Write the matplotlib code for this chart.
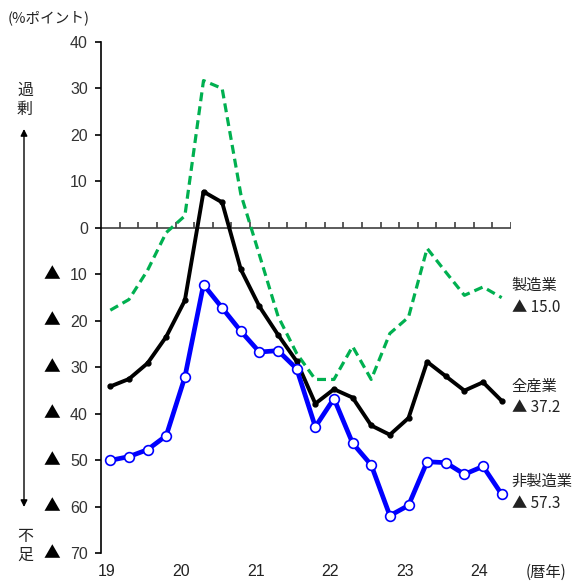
import numpy as np
import matplotlib
matplotlib.use("Agg")
from matplotlib import pyplot as plt
from matplotlib import transforms

# quarterly DI (% points), 2019 Q1 .. 2024 Q2
quarters = np.arange(22)
mfg = [-17.7, -15.4, -9.1, -1.0, 2.6, 31.7, 30.0, 7.3, -5.8, -19.0, -27.0,
       -32.6, -32.6, -25.5, -32.6, -22.7, -19.2, -4.4, -9.5, -14.5, -12.7, -15.0]
all_ind = [-34.1, -32.5, -29.1, -23.4, -15.6, 7.8, 5.5, -8.9, -16.9, -23.0, -28.7,
           -37.8, -34.7, -36.5, -42.5, -44.5, -40.9, -28.8, -31.9, -35.0, -33.2, -37.2]
non_mfg = [-50.0, -49.2, -47.7, -44.7, -32.1, -12.2, -17.2, -22.2, -26.7, -26.4, -30.3,
           -42.8, -36.7, -46.3, -51.0, -61.9, -59.7, -50.3, -50.5, -53.0, -51.3, -57.3]
series_names = ['製造業', '全産業', '非製造業']
year_labels = ['19', '20', '21', '22', '23', '24']
y_ticks = list(range(-70, 41, 10))

JP = ['Noto Sans CJK JP', 'DejaVu Sans']
NUM = ['Liberation Sans', 'Noto Sans CJK JP']
W, H = 576, 581


def px(x, y):
    # pixel position (top-left origin) -> figure fraction
    return x / W, 1 - y / H


fig = plt.figure(figsize=(W / 100, H / 100), dpi=100)
ax = fig.add_axes([101 / W, 1 - 553.3 / H, 410 / W, 511.3 / H])

ax.set_xlim(-0.5, 21.5)
ax.set_ylim(-70, 40)
for s in ['top', 'right', 'bottom']:
    ax.spines[s].set_visible(False)
ax.spines['left'].set_linewidth(1.2)
ax.spines['left'].set_color('black')

ax.set_yticks(y_ticks)
ax.set_yticklabels([str(abs(v)) for v in y_ticks],
                   family=NUM, fontsize=11.5, color='#333333')
ax.tick_params(axis='y', length=4.5, width=1.2, pad=5)
ax.set_xticks([])

# negative values are marked with a triangle left of the number
ytr = transforms.blended_transform_factory(fig.transFigure, ax.transData)
for v in y_ticks:
    if v < 0:
        ax.text(52 / W, v, '▲', transform=ytr, ha='center', va='center',
                family=JP, fontsize=12, color='black')

# zero line with quarter ticks
ax.axhline(0, color='#404040', lw=1.2, zorder=1)
ax.vlines(np.arange(0.5, 21.6, 1), 0, 1.3, color='#404040', lw=1.2, zorder=1)

ax.plot(quarters, mfg, color='#00B050', lw=2.3, ls=(0, (2.8, 1.6)), zorder=2)
ax.plot(quarters, all_ind, color='black', lw=2.8, marker='o', ms=3.5, zorder=3)
ax.plot(quarters, non_mfg, color='#0000FF', lw=3.4, marker='o', ms=7,
        mfc='white', mec='#0000FF', mew=1.2, zorder=4)

# year labels under the axis
tr = transforms.blended_transform_factory(ax.transData, fig.transFigure)
for k, lab in enumerate(year_labels):
    ax.text(4 * k - 0.2, 1 - 572 / H, lab, transform=tr, ha='center', va='center',
            family=NUM, fontsize=11.5, color='#222222')
fig.text(*px(546, 572), '(暦年)', ha='center', va='center', family=JP,
         fontsize=11, color='#222222')

# series labels at the right end
for name, vals, y0 in zip(series_names, [mfg, all_ind, non_mfg], [285, 386, 481]):
    fig.text(*px(511, y0), name, ha='left', va='center', family=JP,
             fontsize=11, color='#222222')
    fig.text(*px(512, y0 + 22), '▲ %.1f' % abs(vals[-1]), ha='left', va='center',
             family=JP, fontsize=11, color='#222222')

# unit and direction notes on the left
fig.text(*px(49, 18), '(%ポイント)', ha='center', va='center', family=JP,
         fontsize=10.5, color='#222222')
fig.text(*px(25, 100), '過\n剰', ha='center', va='center', family=JP,
         fontsize=11.5, color='#222222', linespacing=1.15)
fig.text(*px(25, 546), '不\n足', ha='center', va='center', family=JP,
         fontsize=11.5, color='#222222', linespacing=1.15)
fig.patches.append(matplotlib.patches.FancyArrowPatch(
    px(24, 507), px(24, 129), transform=fig.transFigure, arrowstyle='<|-|>',
    mutation_scale=10, lw=1, color='black', shrinkA=0, shrinkB=0))

fig.savefig('out.png', dpi=100)
